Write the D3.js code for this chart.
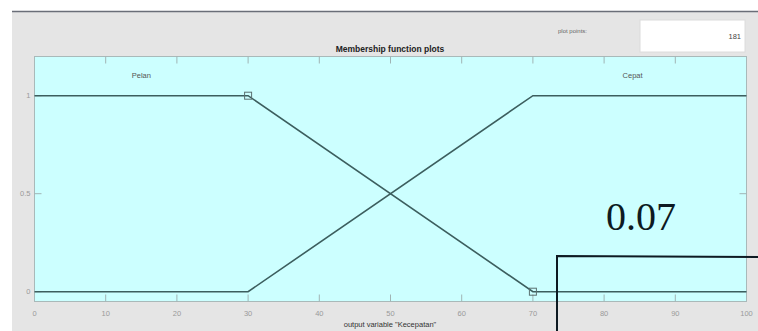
<!DOCTYPE html>
<html><head><meta charset="utf-8">
<script src="https://cdn.jsdelivr.net/npm/d3@7"></script>
<style>body{margin:0;background:#fff;overflow:hidden}svg{display:block}</style>
</head><body>
<script>
const xTicks = [0,10,20,30,40,50,60,70,80,90,100];
const yTicks = [0,0.5,1];
const seriesNames = ["Pelan","Cepat"];
const pelanX = [0,30,70,100];
const pelanY = [1,1,0,0];
const cepatX = [0,30,70,100];
const cepatY = [0,0,1,1];
const labelX = [15,84];
const plotPoints = "181";
const overlayValue = "0.07";

const W=758,H=331;
const svg=d3.select("body").append("svg").attr("width",W).attr("height",H);
svg.append("rect").attr("x",12).attr("y",11).attr("width",W-12).attr("height",H-11).attr("fill","#e5e5e5");
svg.append("line").attr("x1",12).attr("x2",W).attr("y1",11.5).attr("y2",11.5).attr("stroke","#6a6e78").attr("stroke-width",1.5);

const x=d3.scaleLinear().domain([0,100]).range([34.5,746.5]);
const y=d3.scaleLinear().domain([-0.05,1.2]).range([301.5,56.5]);

svg.append("rect").attr("x",x(0)).attr("y",y(1.2)).attr("width",x(100)-x(0)).attr("height",y(-0.05)-y(1.2))
  .attr("fill","#ccffff").attr("stroke","#a9b9b9").attr("stroke-width",1);

// ticks
const tickCol="#a0b4b4";
const g=svg.append("g");
g.selectAll(".tb").data(xTicks.slice(1,-1)).join("line").attr("x1",d=>x(d)).attr("x2",d=>x(d))
  .attr("y1",y(-0.05)).attr("y2",y(-0.05)-7).attr("stroke",tickCol);
g.selectAll(".tt").data(xTicks.slice(1,-1)).join("line").attr("class","tt").attr("x1",d=>x(d)).attr("x2",d=>x(d))
  .attr("y1",y(1.2)).attr("y2",y(1.2)+7).attr("stroke",tickCol);
g.selectAll(".yl").data(yTicks).join("line").attr("x1",x(0)).attr("x2",x(0)+7).attr("y1",d=>y(d)).attr("y2",d=>y(d)).attr("stroke",tickCol);
g.selectAll(".yr").data(yTicks).join("line").attr("class","yr").attr("x1",x(100)).attr("x2",x(100)-7).attr("y1",d=>y(d)).attr("y2",d=>y(d)).attr("stroke",tickCol);

const lab="#9a9a9a";
svg.selectAll(".xt").data(xTicks).join("text").attr("x",d=>x(d)).attr("y",316).attr("text-anchor","middle")
  .attr("font-family","Liberation Sans, Arial").attr("font-size",7.5).attr("fill",lab).text(d=>d);
svg.selectAll(".ytl").data(yTicks).join("text").attr("class","ytl").attr("x",x(0)-4).attr("y",d=>y(d)+2.5).attr("text-anchor","end")
  .attr("font-family","Liberation Sans, Arial").attr("font-size",7.5).attr("fill",lab).text(d=>d);

// lines
const lineCol="#3c5e5e";
const line=d3.line().x(d=>x(d[0])).y(d=>y(d[1]));
svg.append("path").datum(pelanX.map((v,i)=>[v,pelanY[i]])).attr("d",line).attr("fill","none").attr("stroke",lineCol).attr("stroke-width",1.6);
svg.append("path").datum(cepatX.map((v,i)=>[v,cepatY[i]])).attr("d",line).attr("fill","none").attr("stroke",lineCol).attr("stroke-width",1.6);
// markers
[[pelanX[1],pelanY[1]],[pelanX[2],pelanY[2]]].forEach(p=>{
  svg.append("rect").attr("x",x(p[0])-3.5).attr("y",y(p[1])-3.5).attr("width",7).attr("height",7)
    .attr("fill","none").attr("stroke","#5a7070").attr("stroke-width",1);
});

// series labels
svg.selectAll(".sl").data(seriesNames).join("text").attr("x",(d,i)=>x(labelX[i])).attr("y",y(1.1)+2)
  .attr("text-anchor","middle").attr("font-family","Liberation Sans, Arial").attr("font-size",7.5).attr("fill","#555").text(d=>d);

// title
svg.append("text").attr("x",390).attr("y",52).attr("text-anchor","middle").attr("font-family","Liberation Sans, Arial")
  .attr("font-weight","bold").attr("font-size",8.5).attr("fill","#222").text("Membership function plots");
svg.append("text").attr("x",390).attr("y",327).attr("text-anchor","middle").attr("font-family","Liberation Sans, Arial")
  .attr("font-size",7.5).attr("fill","#333").text('output variable "Kecepatan"');

// plot points box
svg.append("text").attr("x",587).attr("y",33).attr("text-anchor","end").attr("font-family","Liberation Sans, Arial")
  .attr("font-size",6).attr("fill","#666").text("plot points:");
svg.append("rect").attr("x",640).attr("y",20).attr("width",105).attr("height",32).attr("fill","#fff").attr("stroke","#dcdcdc");
svg.append("text").attr("x",741).attr("y",39).attr("text-anchor","end").attr("font-family","Liberation Sans, Arial")
  .attr("font-size",7.5).attr("fill","#444").text(plotPoints);

// overlay
svg.append("text").attr("x",641).attr("y",230).attr("text-anchor","middle").attr("font-family","Liberation Serif, Times New Roman")
  .attr("font-size",40).attr("fill","#0d1a22").text(overlayValue);
svg.append("path").attr("d","M557,331 L557,256 L758,257").attr("fill","none").attr("stroke","#0d1a22").attr("stroke-width",2);
</script>
</body></html>
